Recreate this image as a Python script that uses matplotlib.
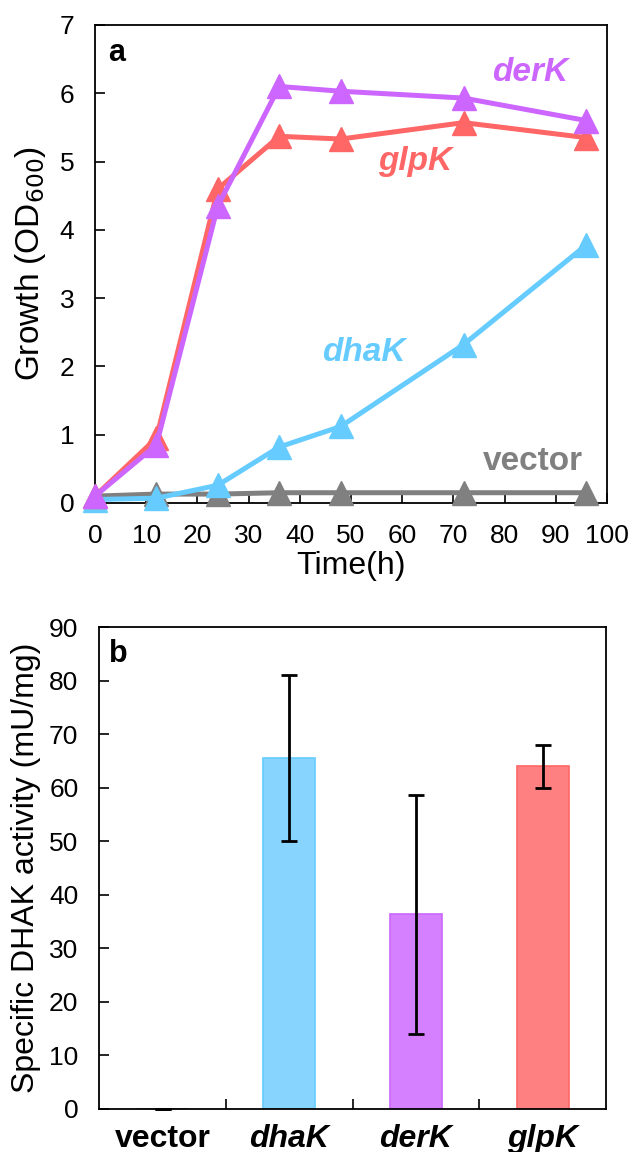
import matplotlib
matplotlib.use('Agg')
import matplotlib.pyplot as plt
import numpy as np

plt.rcParams['font.family'] = ['Liberation Sans', 'DejaVu Sans']

# panel a: growth curves
time_h = [0, 12, 24, 36, 48, 72, 96]
od_vector = [0.10, 0.13, 0.13, 0.15, 0.15, 0.15, 0.15]
od_dhaK = [0.05, 0.07, 0.26, 0.82, 1.12, 2.32, 3.78]
od_derK = [0.10, 0.85, 4.35, 6.10, 6.03, 5.93, 5.60]
od_glpK = [0.10, 0.95, 4.60, 5.37, 5.33, 5.57, 5.35]

# panel b: enzyme activity
strains = ['vector', 'dhaK', 'derK', 'glpK']
activity = [0.0, 65.5, 36.3, 64.0]
activity_err = [0.0, 15.5, 22.3, 4.0]

c_vec = '#808080'
c_dha = '#66CCFF'
c_der = '#CC66FF'
c_glp = '#FF6666'

fig = plt.figure(figsize=(6.32, 11.52), dpi=100)
ax1 = fig.add_axes([0.1503, 0.5634, 0.8100, 0.4149])
ax2 = fig.add_axes([0.1570, 0.0376, 0.8020, 0.4181])

# --- a ---
for ys, c in [(od_vector, c_vec), (od_dhaK, c_dha), (od_glpK, c_glp), (od_derK, c_der)]:
    ax1.plot(time_h, ys, '-^', color=c, lw=3.6, markersize=17, clip_on=False, zorder=3)

ax1.set_xlim(0, 100)
ax1.set_ylim(0, 7)
ax1.set_xticks(np.arange(0, 101, 10))
ax1.set_yticks(np.arange(0, 8, 1))
ax1.tick_params(direction='in', length=7, width=1.2, labelsize=19)
ax1.tick_params(axis='x', pad=15)
ax1.tick_params(axis='y', pad=15)
ax1.set_xlabel('Time(h)', fontsize=23, labelpad=2)
ax1.set_ylabel('Growth (OD$_{600}$)', fontsize=24, labelpad=8)
ax1.text(0.025, 0.973, 'a', transform=ax1.transAxes, fontsize=22, fontweight='bold', va='top')

lab = dict(fontsize=24, fontweight='bold', ha='center', va='center')
ax1.text(85, 6.3, 'derK', color=c_der, style='italic', **lab)
ax1.text(62.5, 5.0, 'glpK', color=c_glp, style='italic', **lab)
ax1.text(52.5, 2.2, 'dhaK', color=c_dha, style='italic', **lab)
ax1.text(85.5, 0.6, 'vector', color=c_vec, **lab)

# --- b ---
x = np.arange(len(strains))
face = ['#9E9E9E', '#87D5FF', '#D580FF', '#FF8080']
edge = [c_vec, c_dha, c_der, c_glp]
ax2.bar(x, activity, width=0.41, color=face, edgecolor=edge, linewidth=1.2, zorder=2)
ax2.errorbar(x, activity, yerr=activity_err, fmt='none', ecolor='black',
             elinewidth=2, capsize=6, capthick=2, zorder=3, clip_on=False)

ax2.set_xlim(-0.5, 3.5)
ax2.set_ylim(0, 90)
ax2.set_yticks(np.arange(0, 91, 10))
ax2.set_xticks(x)
ax2.set_xticklabels(strains)
ax2.set_xticks([0.5, 1.5, 2.5], minor=True)
ax2.tick_params(axis='x', which='major', length=0, labelsize=23, pad=11)
ax2.tick_params(axis='x', which='minor', direction='in', length=7, width=1.2)
ax2.tick_params(axis='y', direction='in', length=7, width=1.2, labelsize=19, pad=15)
for t in ax2.get_xticklabels():
    t.set_fontweight('bold')
    if t.get_text() != 'vector':
        t.set_style('italic')
ax2.set_ylabel('Specific DHAK activity (mU/mg)', fontsize=23, labelpad=6)
ax2.text(0.019, 0.975, 'b', transform=ax2.transAxes, fontsize=22, fontweight='bold', va='top')

for ax in (ax1, ax2):
    for s in ax.spines.values():
        s.set_linewidth(1.3)

fig.savefig('out.png', dpi=100)
